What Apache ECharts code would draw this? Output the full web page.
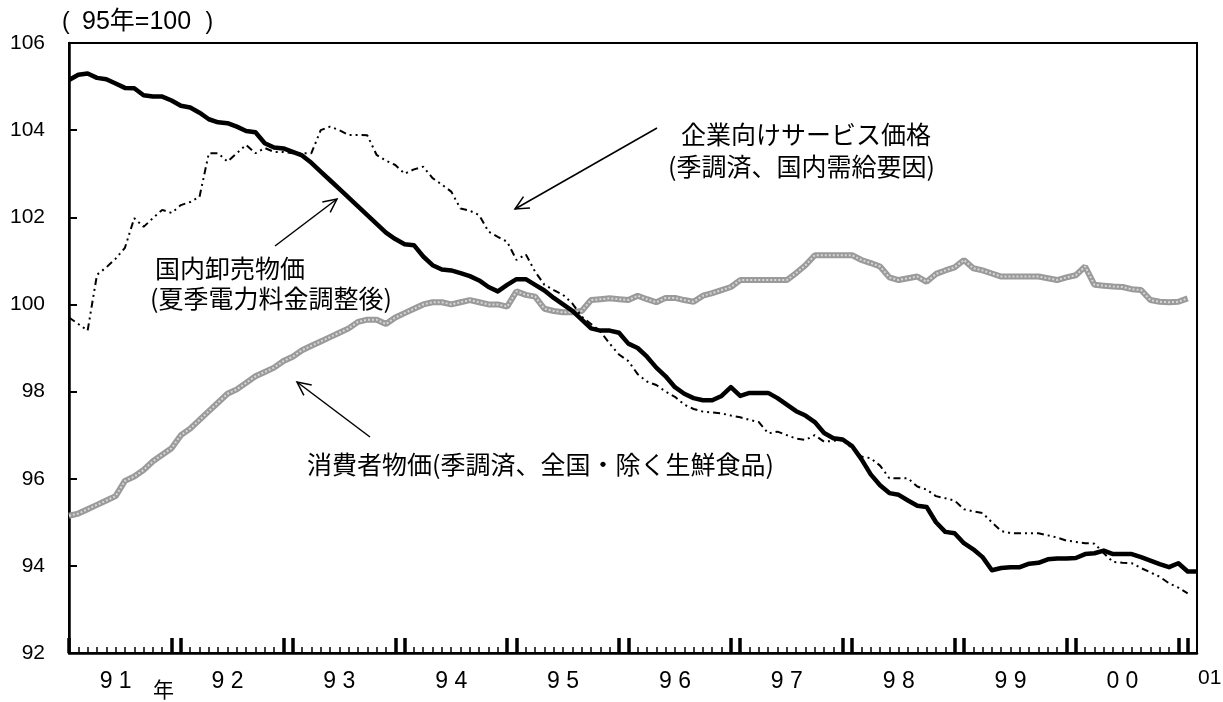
<!DOCTYPE html>
<html>
<head>
<meta charset="utf-8">
<script src="https://cdn.jsdelivr.net/npm/echarts@6/dist/echarts.min.js"></script>
<style>
  html, body { margin: 0; padding: 0; background: #fff; }
  #chart { width: 1223px; height: 702px; }
</style>
</head>
<body>
<div id="chart"></div>
<script>
// monthly, 1991/01 .. 2001/02
const years = ['91', '92', '93', '94', '95', '96', '97', '98', '99', '00', '01'];
const yearLabels = ['9 1', '9 2', '9 3', '9 4', '9 5', '9 6', '9 7', '9 8', '9 9', '0 0'];
const months = [];
years.forEach(y => { for (let m = 1; m <= 12; m++) months.push(y + '/' + m); });
months.length = 122;

// 国内卸売物価（夏季電力料金調整後）
const wpi = [
  105.15, 105.27, 105.3, 105.2, 105.17, 105.07, 104.97, 104.96, 104.8, 104.77, 104.77, 104.68,
  104.56, 104.52, 104.4, 104.25, 104.18, 104.16, 104.08, 103.98, 103.95, 103.7, 103.6, 103.58,
  103.5, 103.42, 103.25, 103.05, 102.85, 102.65, 102.45, 102.25, 102.05, 101.85, 101.65, 101.5,
  101.38, 101.36, 101.1, 100.9, 100.8, 100.78, 100.72, 100.65, 100.55, 100.4, 100.3, 100.45,
  100.58, 100.58, 100.45, 100.32, 100.15, 100.0, 99.85, 99.65, 99.45, 99.4, 99.4, 99.35,
  99.1, 99.0, 98.8, 98.55, 98.35, 98.1, 97.95, 97.85, 97.8, 97.8, 97.9, 98.1,
  97.9, 97.97, 97.97, 97.97, 97.85, 97.7, 97.55, 97.45, 97.3, 97.05, 96.93, 96.9,
  96.75, 96.45, 96.1, 95.85, 95.67, 95.63, 95.5, 95.38, 95.35, 95.0, 94.78, 94.75,
  94.52, 94.38, 94.2, 93.9, 93.95, 93.97, 93.97, 94.05, 94.07, 94.15, 94.17, 94.17,
  94.18, 94.27, 94.29, 94.35, 94.27, 94.27, 94.27, 94.2, 94.12, 94.04, 93.97, 94.06,
  93.87, 93.87
];

// 企業向けサービス価格（季調済、国内需給要因）
const cspi = [
  99.7, 99.55, 99.4, 100.68, 100.85, 101.05, 101.3, 101.98, 101.78, 101.98, 102.17, 102.1,
  102.28, 102.35, 102.47, 103.47, 103.47, 103.28, 103.47, 103.66, 103.47, 103.59, 103.5, 103.5,
  103.47, 103.47, 103.47, 104.0, 104.08, 104.0, 103.89, 103.89, 103.88, 103.43, 103.3, 103.2,
  103.0, 103.1, 103.16, 102.9, 102.75, 102.59, 102.2, 102.15, 102.05, 101.67, 101.55, 101.44,
  101.02, 101.15, 100.75, 100.45, 100.33, 100.22, 100.02, 99.72, 99.55, 99.38, 99.1, 98.85,
  98.7, 98.4, 98.23, 98.15, 98.0, 97.88, 97.7, 97.6, 97.54, 97.52, 97.5, 97.45,
  97.41, 97.35, 97.3, 97.04, 97.08, 97.0, 96.92, 96.89, 97.0, 96.85, 96.87, 96.89,
  96.7, 96.51, 96.47, 96.3, 96.01, 96.01, 96.01, 95.82, 95.75, 95.6, 95.55, 95.5,
  95.3, 95.25, 95.21, 95.0, 94.8, 94.75, 94.75, 94.75, 94.75, 94.7, 94.65, 94.58,
  94.55, 94.52, 94.51, 94.29, 94.09, 94.07, 94.06, 93.95, 93.85, 93.75, 93.6, 93.5,
  93.37
];

// 消費者物価（季調済、全国・除く生鮮食品）
const cpi = [
  95.15, 95.2, 95.3, 95.4, 95.5, 95.6, 95.95, 96.05, 96.2, 96.4, 96.55, 96.7,
  97.0, 97.15, 97.35, 97.55, 97.75, 97.95, 98.05, 98.2, 98.35, 98.45, 98.55, 98.7,
  98.8, 98.95, 99.05, 99.15, 99.25, 99.35, 99.45, 99.6, 99.65, 99.65, 99.55, 99.7,
  99.8, 99.9, 100.0, 100.05, 100.05, 100.0, 100.05, 100.1, 100.05, 100.0, 100.0, 99.95,
  100.3, 100.22, 100.18, 99.9, 99.85, 99.82, 99.82, 99.85, 100.1, 100.12, 100.14, 100.12,
  100.1, 100.2, 100.12, 100.05, 100.15, 100.15, 100.1, 100.06, 100.2, 100.26, 100.33, 100.4,
  100.56, 100.56, 100.56, 100.56, 100.56, 100.56, 100.72, 100.9, 101.13, 101.13, 101.13, 101.13,
  101.13, 101.02, 100.95, 100.87, 100.62, 100.56, 100.6, 100.64, 100.52, 100.7, 100.78, 100.85,
  101.02, 100.83, 100.78, 100.71, 100.64, 100.64, 100.64, 100.64, 100.64, 100.6, 100.56, 100.62,
  100.67, 100.87, 100.45, 100.43, 100.41, 100.4, 100.35, 100.33, 100.1, 100.06, 100.05, 100.06,
  100.14
];

const JP = '"Noto Sans CJK JP", sans-serif';
const NUM = '"Liberation Sans", Arial, sans-serif';

function arrow(x1, y1, x2, y2) {
  // open arrow head at (x2, y2)
  const a = Math.atan2(y2 - y1, x2 - x1), L = 15, w = 0.45;
  const p1 = [x2 - L * Math.cos(a - w), y2 - L * Math.sin(a - w)];
  const p2 = [x2 - L * Math.cos(a + w), y2 - L * Math.sin(a + w)];
  const st = { stroke: '#000', lineWidth: 1.5, fill: null };
  return [
    { type: 'polyline', shape: { points: [[x1, y1], [x2, y2]] }, style: st, silent: true },
    { type: 'polyline', shape: { points: [p1, [x2, y2], p2] }, style: st, silent: true }
  ];
}

function label(text, x, y, size, font) {
  return {
    type: 'text', left: x, top: y - size * 0.65, silent: true,
    style: { text, fill: '#000', fontSize: size, fontFamily: font || JP }
  };
}

// unit note "( 95年=100 )", parentheses set apart like the original
const unitFont = NUM + ', ' + JP;
const unitRich = {
  l: { width: 20, align: 'left', fontSize: 23, fontFamily: unitFont },
  n: { fontSize: 25, fontFamily: unitFont },
  r: { width: 22, align: 'right', fontSize: 23, fontFamily: unitFont }
};
const unitText = '{l|(}{n|95年=100}{r|)}';

const chart = echarts.init(document.getElementById('chart'));
chart.setOption({
  animation: false,
  backgroundColor: '#fff',
  grid: {
    left: 69, right: 26, top: 43, bottom: 49,
    show: true, borderColor: '#000', borderWidth: 2, backgroundColor: 'transparent'
  },
  xAxis: [
    {
      type: 'category', data: months, boundaryGap: false,
      axisLine: { lineStyle: { color: '#000', width: 2.5 } },
      axisTick: { inside: true, length: 6, interval: 0, lineStyle: { color: '#000', width: 1.5 } },
      axisLabel: {
        interval: (i) => i % 12 === 5,
        formatter: (v, i) => yearLabels[Math.floor(i / 12)] || '',
        color: '#000', fontSize: 23, fontFamily: NUM, margin: 17
      },
      splitLine: { show: false }
    },
    {
      type: 'category', data: months, boundaryGap: false, position: 'bottom',
      axisLine: { show: false },
      axisTick: {
        inside: true, length: 15,
        interval: (i) => i % 12 === 0 || i % 12 === 11,
        lineStyle: { color: '#000', width: 3.5 }
      },
      axisLabel: { show: false },
      splitLine: { show: false }
    }
  ],
  yAxis: {
    type: 'value', min: 92, max: 106, interval: 2,
    axisLine: { show: true, lineStyle: { color: '#000', width: 2.5 } },
    axisTick: { show: true, inside: true, length: 8, lineStyle: { color: '#000', width: 2 } },
    axisLabel: { color: '#000', fontSize: 21, fontFamily: NUM, margin: 24 },
    splitLine: { show: false }
  },
  series: [
    {
      name: '消費者物価', type: 'line', data: cpi, symbol: 'none',
      lineStyle: { color: '#9a9a9a', width: 6 }, z: 2
    },
    {
      name: '消費者物価(模様)', type: 'line', data: cpi, symbol: 'none',
      lineStyle: { color: '#d6d6d6', width: 2, type: [2, 2] }, z: 3
    },
    {
      name: '企業向けサービス価格', type: 'line', data: cspi, symbol: 'none',
      lineStyle: { color: '#000', width: 2, type: [7, 4, 2, 4, 2, 4] }, z: 4
    },
    {
      name: '国内卸売物価', type: 'line', data: wpi, symbol: 'none',
      lineStyle: { color: '#000', width: 4.5, join: 'round' }, z: 5
    }
  ],
  graphic: [
    {
      type: 'text', left: 62, top: 10, silent: true,
      style: { text: unitText, fill: '#000', fontSize: 25, fontFamily: unitFont, rich: unitRich }
    },
    label('企業向けサービス価格', 681, 138, 25),
    label('(季調済、国内需給要因)', 668, 170, 25),
    label('国内卸売物価', 155, 272, 25),
    label('(夏季電力料金調整後)', 150, 302, 25),
    label('消費者物価(季調済、全国・除く生鮮食品)', 307, 468, 25),
    label('年', 153, 692, 21),
    label('01', 1198, 681, 21, NUM),
    ...arrow(657, 128, 515, 209),
    ...arrow(275, 246, 337, 199),
    ...arrow(370, 437, 297, 382)
  ]
});
</script>
</body>
</html>
